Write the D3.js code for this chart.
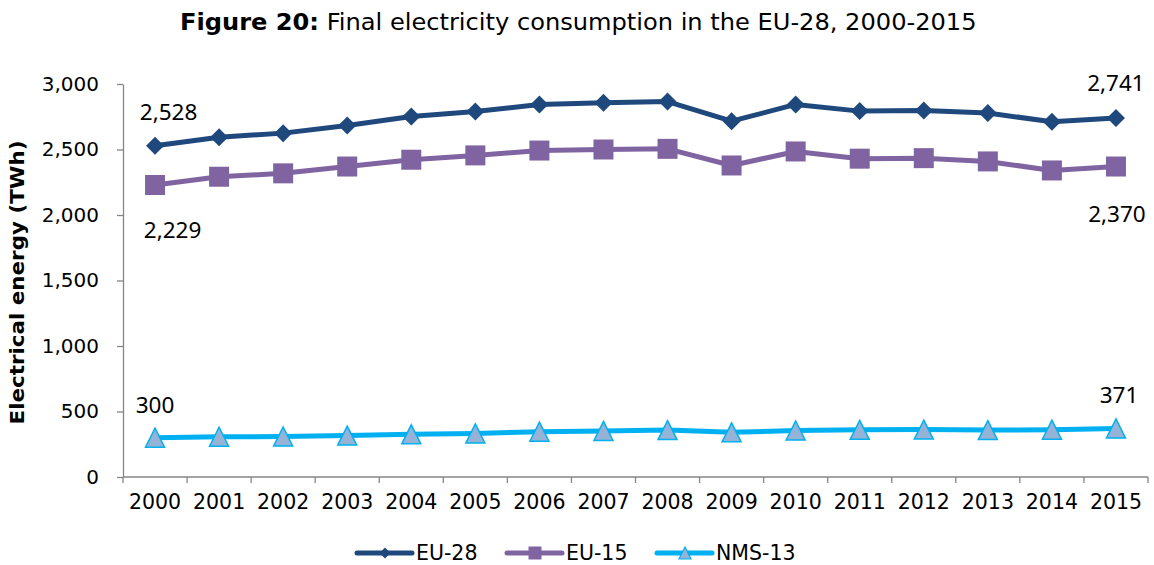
<!DOCTYPE html>
<html>
<head>
<meta charset="utf-8">
<script src="https://cdn.jsdelivr.net/npm/d3@7"></script>
<style>
  html, body { margin: 0; padding: 0; background: #fff; }
  svg { display: block; }
  .tick text { font-family: "DejaVu Sans", Verdana, sans-serif; }
</style>
</head>
<body>
<svg id="chart" width="1154" height="565"></svg>
<script>
// Final electricity consumption (TWh), 2000-2015
const years = ["2000","2001","2002","2003","2004","2005","2006","2007",
               "2008","2009","2010","2011","2012","2013","2014","2015"];
const eu28  = [2528, 2594, 2625, 2684, 2752, 2790, 2844, 2857,
               2866, 2716, 2844, 2793, 2798, 2778, 2712, 2741];
const eu15  = [2229, 2292, 2318, 2370, 2422, 2455, 2492, 2500,
               2505, 2378, 2485, 2430, 2434, 2409, 2340, 2370];
const nms13 = [300, 307, 309, 316, 326, 333, 346, 352,
               358, 341, 355, 360, 362, 358, 361, 371];
const yTicks = [0, 500, 1000, 1500, 2000, 2500, 3000];
const seriesNames = ["EU-28", "EU-15", "NMS-13"];

const svg = d3.select("#chart");
const fmt = d3.format(",");

const x = d3.scaleBand().domain(years).range([123, 1148]).padding(0);
const y = d3.scaleLinear().domain([0, 3000]).range([477, 84]);
const cx = d => x(d) + x.bandwidth() / 2;

// Title, fitted to its width
const title = svg.append("text")
  .attr("x", 0).attr("y", 30)
  .style("font-family", "'DejaVu Sans', Verdana, sans-serif")
  .style("font-size", "22.5px")
  .attr("fill", "#000");
title.append("tspan").attr("font-weight", "bold").text("Figure 20:");
title.append("tspan").text(" Final electricity consumption in the EU-28, 2000-2015");
{
  const w = title.node().getComputedTextLength();
  const target = 797, left = 180;
  title.attr("transform", `translate(${left},0) scale(${target / w},1)`);
}

// Y axis
const yAxis = svg.append("g")
  .attr("transform", "translate(123,0)")
  .call(d3.axisLeft(y).tickValues(yTicks).tickSize(6).tickSizeOuter(0)
    .tickPadding(18).tickFormat(fmt));
yAxis.select(".domain").attr("stroke", "#868686").attr("stroke-width", 1.3);
yAxis.selectAll(".tick line").attr("stroke", "#868686").attr("stroke-width", 1.3);
yAxis.selectAll(".tick text").style("font-size", "20px").attr("fill", "#000");

// X axis: labels centred on categories, ticks on category boundaries
const xAxis = svg.append("g")
  .attr("transform", "translate(0,477)")
  .call(d3.axisBottom(x).tickSize(0).tickSizeOuter(0).tickPadding(13));
xAxis.select(".domain").remove();
xAxis.selectAll(".tick text").style("font-size", "20.5px").attr("fill", "#000").attr("dy", "0.95em");
svg.append("line")
  .attr("x1", x.range()[0]).attr("x2", x.range()[1])
  .attr("y1", y(0)).attr("y2", y(0))
  .attr("stroke", "#868686").attr("stroke-width", 1.3);
const bounds = years.map(d => x(d)).concat([x.range()[1]]);
svg.append("g").selectAll("line").data(bounds).join("line")
  .attr("x1", d => d).attr("x2", d => d)
  .attr("y1", y(0)).attr("y2", y(0) + 6)
  .attr("stroke", "#868686").attr("stroke-width", 1.3);

// Y axis title
svg.append("text")
  .attr("transform", `translate(24,${(y(0) + y(3000)) / 2 + 2}) rotate(-90)`)
  .attr("text-anchor", "middle")
  .attr("textLength", 284)
  .attr("lengthAdjust", "spacingAndGlyphs")
  .style("font-family", "'DejaVu Sans', Verdana, sans-serif")
  .style("font-size", "19px").style("font-weight", "bold")
  .text("Electrical energy (TWh)");

// Marker shapes
const diamond = s => `M0,${-s}L${s},0L0,${s}L${-s},0Z`;
const square = s => `M${-s},${-s}H${s}V${s}H${-s}Z`;
const triangle = s => `M0,${-s}L${s},${s}L${-s},${s}Z`;

const series = [
  { name: seriesNames[0], values: eu28, line: "#1F497D", fill: "#1F497D", stroke: "none", shape: diamond(9), legendShape: diamond(5.5) },
  { name: seriesNames[1], values: eu15, line: "#8064A2", fill: "#8064A2", stroke: "none", shape: square(10), legendShape: square(6.5) },
  { name: seriesNames[2], values: nms13, line: "#00B0F0", fill: "#95B3D7", stroke: "#00B0F0", shape: triangle(9.5), legendShape: triangle(6) }
];

const lineGen = d3.line().x(d => cx(d.year)).y(d => y(d.v));

series.forEach(s => {
  const pts = years.map((yr, i) => ({ year: yr, v: s.values[i] }));
  const g = svg.append("g");
  g.append("path").datum(pts)
    .attr("d", lineGen)
    .attr("fill", "none")
    .attr("stroke", s.line)
    .attr("stroke-width", 5)
    .attr("stroke-linejoin", "round")
    .attr("stroke-linecap", "round");
  g.selectAll("path.m").data(pts).join("path")
    .attr("class", "m")
    .attr("transform", d => `translate(${cx(d.year)},${y(d.v)})`)
    .attr("d", s.shape)
    .attr("fill", s.fill)
    .attr("stroke", s.stroke)
    .attr("stroke-width", 1.5)
    .attr("stroke-linejoin", "miter");
});

// End-point value labels
const labelFont = "'Noto Sans', 'Open Sans', sans-serif";
const last = years.length - 1;
const labels = [
  { year: years[0], v: eu28[0], dx: 13.5, dy: -34 },
  { year: years[0], v: eu15[0], dx: 17.5, dy: 45 },
  { year: years[0], v: nms13[0], dx: 0, dy: -33 },
  { year: years[last], v: eu28[last], dx: 0, dy: -35 },
  { year: years[last], v: eu15[last], dx: 1, dy: 47 },
  { year: years[last], v: nms13[last], dx: 3, dy: -33 }
];
svg.append("g").selectAll("text").data(labels).join("text")
  .attr("x", d => cx(d.year) + d.dx)
  .attr("y", d => y(d.v) + d.dy)
  .attr("text-anchor", "middle")
  .attr("dy", "0.36em")
  .style("font-family", labelFont)
  .style("font-size", "22.5px")
  .attr("fill", "#000")
  .text(d => fmt(d.v));

// Legend
const legendX = [357, 507, 657];
const legend = svg.append("g");
series.forEach((s, i) => {
  const lx = legendX[i], ly = 553;
  legend.append("line")
    .attr("x1", lx).attr("x2", lx + 55)
    .attr("y1", ly).attr("y2", ly)
    .attr("stroke", s.line).attr("stroke-width", 5)
    .attr("stroke-linecap", "round");
  legend.append("path")
    .attr("transform", `translate(${lx + 28},${ly})`)
    .attr("d", s.legendShape)
    .attr("fill", s.fill)
    .attr("stroke", s.stroke)
    .attr("stroke-width", 1.2);
  legend.append("text")
    .attr("x", lx + 59).attr("y", ly)
    .attr("dy", "0.36em")
    .style("font-family", "'DejaVu Sans', Verdana, sans-serif")
    .style("font-size", "20.5px")
    .attr("fill", "#000")
    .text(s.name);
});
</script>
</body>
</html>
